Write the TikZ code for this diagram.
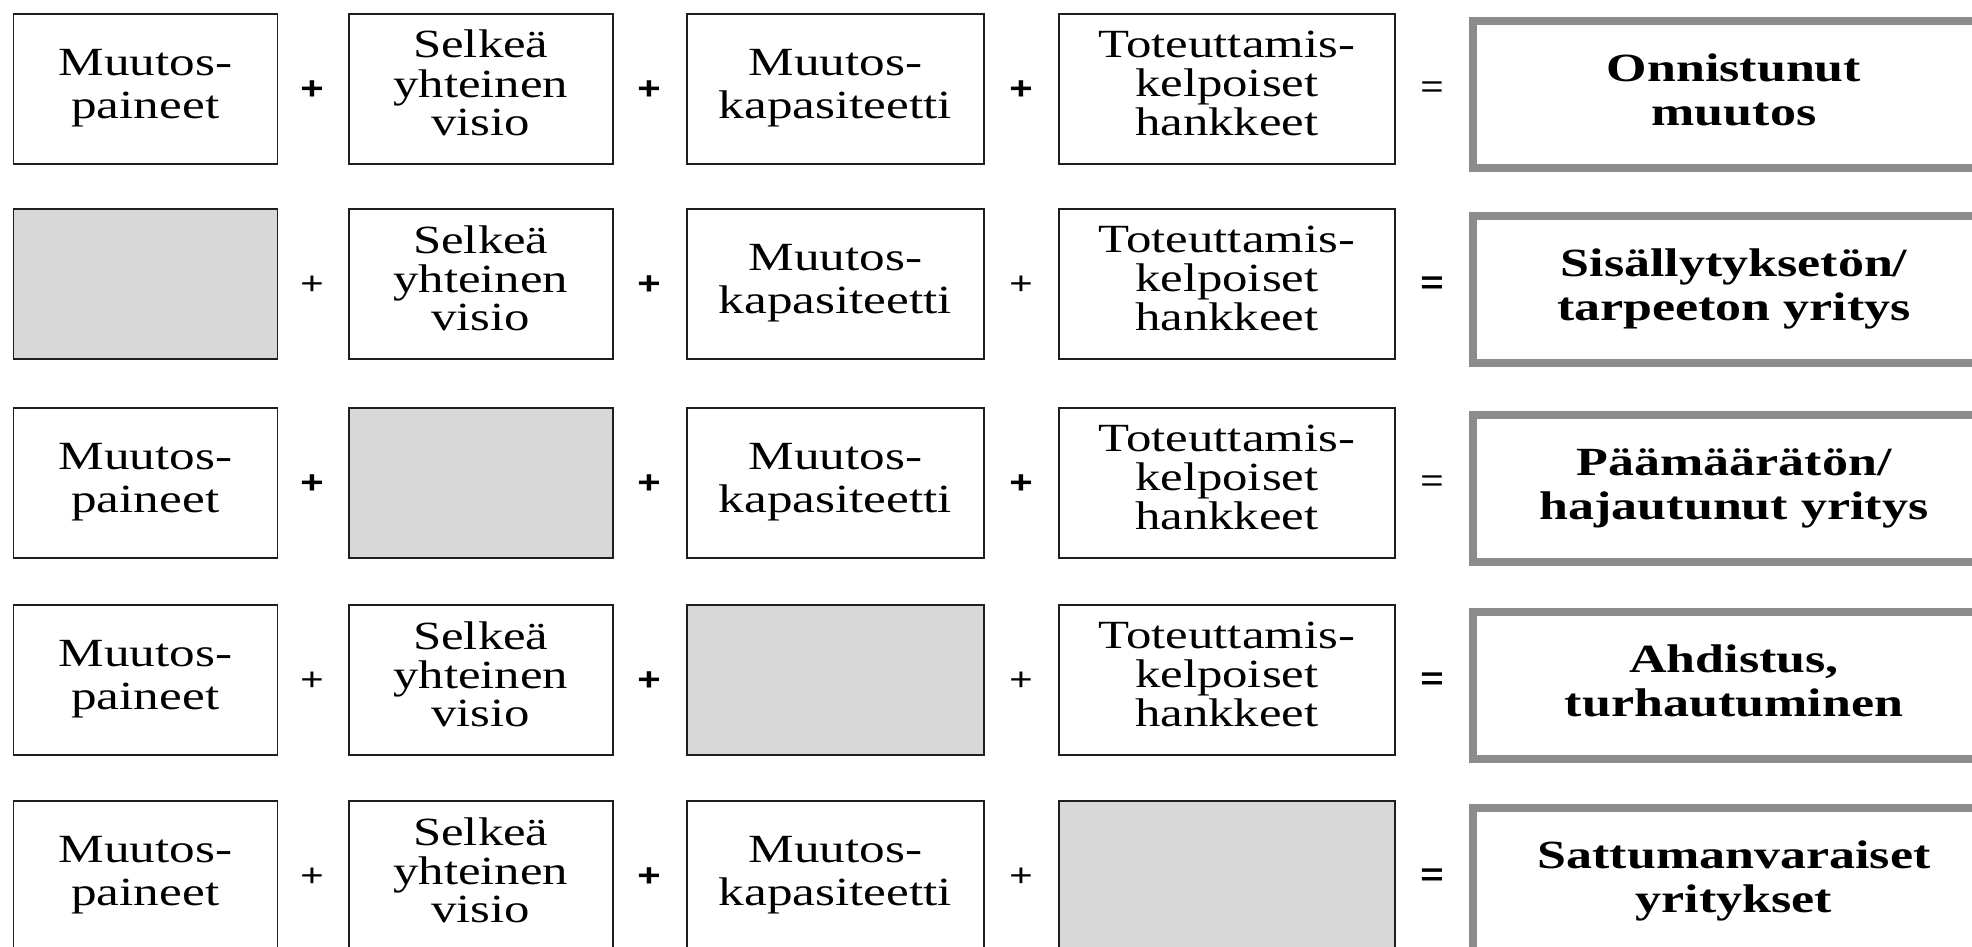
\documentclass[tikz,border=0pt]{standalone}
\usepackage{fontspec}
\setmainfont{Liberation Serif}
\newfontfamily\opfont{Liberation Sans}
\usepackage{graphicx}
\newcommand{\txt}[1]{\scalebox{1.28}[1]{\fontsize{40}{43}\selectfont\begin{tabular}{@{}c@{}}#1\end{tabular}}}
\newcommand{\txtt}[1]{\scalebox{1.27}[1]{\fontsize{40}{38.5}\selectfont\begin{tabular}{@{}c@{}}#1\end{tabular}}}
\newcommand{\btxt}[1]{\scalebox{1.3}[1]{\bfseries\fontsize{40}{44}\selectfont\begin{tabular}{@{}c@{}}#1\end{tabular}}}
\definecolor{blankgray}{HTML}{D8D8D8}
\definecolor{resgray}{HTML}{8C8C8C}
\definecolor{boxline}{HTML}{1E1E1E}
\tikzset{
  cellbox/.style={draw=boxline, line width=1.6pt, fill=white, minimum width=#1,
    minimum height=150pt, inner sep=0pt, anchor=north west},
  blank/.style={fill=blankgray},
  resbox/.style={draw=resgray, line width=8pt, fill=white, minimum width=522pt,
    minimum height=147pt, inner sep=0pt, anchor=north west},
  opsign/.style={inner sep=0pt, font=\opfont\fontsize{32}{32}\selectfont}
}
\begin{document}
\begin{tikzpicture}[x=1pt,y=-1pt]
\path[use as bounding box] (0,0) rectangle (1972,947);
\fill[white] (0,0) rectangle (1972,947);
\clip (0,0) rectangle (1972,947);
\foreach \r/\t/\g/\pa/\pb/\pc/\pe/\res in {
  1/13/0/1/1/1/0/{Onnistunut\\muutos},
  2/208/1/0/1/0/1/{Sisällytyksetön/\\tarpeeton yritys},
  3/407/2/1/1/1/0/{Päämäärätön/\\hajautunut yritys},
  4/604/3/0/1/0/1/{Ahdistus,\\turhautuminen},
  5/800/4/0/1/0/1/{Sattumanvaraiset\\yritykset}}{
  \ifnum\g=1
    \node[cellbox=264pt, blank] (r\r c1) at (12.5,\t) {};
  \else
    \node[cellbox=264pt] (r\r c1) at (12.5,\t) {\txt{Muutos-\\paineet}};
  \fi
  \ifnum\g=2
    \node[cellbox=264pt, blank] (r\r c2) at (348,\t) {};
  \else
    \node[cellbox=264pt] (r\r c2) at (348,\t) {\txtt{Selkeä\\yhteinen\\visio}};
  \fi
  \ifnum\g=3
    \node[cellbox=297pt, blank] (r\r c3) at (686,\t) {};
  \else
    \node[cellbox=297pt] (r\r c3) at (686,\t) {\txt{Muutos-\\kapasiteetti}};
  \fi
  \ifnum\g=4
    \node[cellbox=336pt, blank] (r\r c4) at (1058,\t) {};
  \else
    \node[cellbox=336pt] (r\r c4) at (1058,\t) {\txtt{Toteuttamis-\\kelpoiset\\hankkeet}};
  \fi
  \node[resbox] (r\r res) at (1469,\t+4) {\btxt{\res}};
  \node[opsign] (r\r p1) at (312,\t+77) {\scalebox{1.25}[1]{\ifnum\pa=1\bfseries\fi +}};
  \node[opsign] (r\r p2) at (649,\t+77) {\scalebox{1.25}[1]{\ifnum\pb=1\bfseries\fi +}};
  \node[opsign] (r\r p3) at (1021,\t+77) {\scalebox{1.25}[1]{\ifnum\pc=1\bfseries\fi +}};
  \node[opsign] (r\r eq) at (1432,\t+77) {\scalebox{1.25}[1]{\ifnum\pe=1\bfseries\fi =}};
}
\end{tikzpicture}
\end{document}
